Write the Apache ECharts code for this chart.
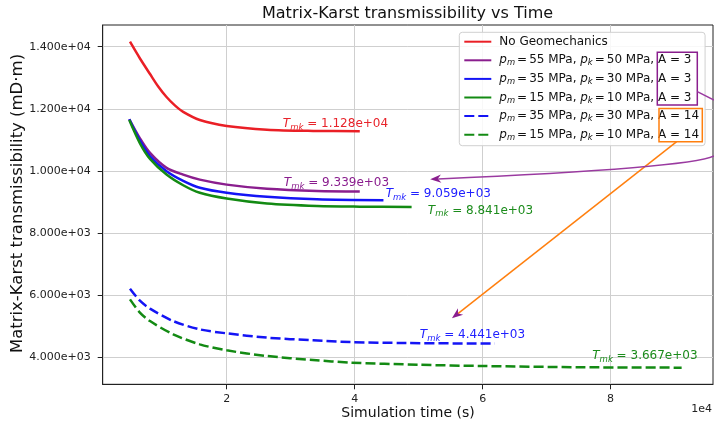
<!DOCTYPE html>
<html><head><meta charset="utf-8">
<script src="https://cdn.jsdelivr.net/npm/echarts@6/dist/echarts.min.js"></script>
<style>html,body{margin:0;padding:0;background:#fff}#c{width:714px;height:421px}</style>
</head><body><div id="c"></div>
<script>
const FONT = 'DejaVu Sans';

// ---- data (time in s, transmissibility in mD·m) ----
const seriesNames = [
  'No Geomechanics',
  'p_m = 55 MPa, p_k = 50 MPa, A = 3',
  'p_m = 35 MPa, p_k = 30 MPa, A = 3',
  'p_m = 15 MPa, p_k = 10 MPa, A = 3',
  'p_m = 35 MPa, p_k = 30 MPa, A = 14',
  'p_m = 15 MPa, p_k = 10 MPa, A = 14'
];
const redT = [4890, 6450, 8020, 9300, 10600, 11900, 13200, 15800, 20000, 26300, 33500, 40800];
const redV = [14160, 13620, 13120, 12720, 12380, 12110, 11900, 11640, 11450, 11330, 11290, 11280];
const purpleT = [4780, 6450, 8020, 10600, 13200, 15800, 20000, 26300, 34100, 40800];
const purpleV = [11665, 11050, 10580, 10100, 9880, 9720, 9560, 9425, 9354, 9339];
const blueT = [4780, 6450, 8020, 10600, 13200, 15800, 20000, 26300, 34100, 44500];
const blueV = [11665, 10974, 10473, 9990, 9680, 9457, 9296, 9167, 9090, 9059];
const greenT = [4780, 6450, 8020, 10600, 13200, 15800, 20000, 26300, 34100, 40800, 48900];
const greenV = [11640, 10890, 10389, 9884, 9540, 9296, 9110, 8950, 8871, 8850, 8841];
const blueDashT = [4890, 6400, 8020, 11640, 15800, 20000, 26300, 33500, 39300, 48000, 61900];
const blueDashV = [6209, 5830, 5566, 5167, 4900, 4772, 4633, 4547, 4492, 4460, 4441];
const greenDashT = [4890, 6400, 8020, 11640, 15800, 20000, 26300, 33500, 39300, 50000, 60000, 75700, 91100];
const greenDashV = [5865, 5449, 5167, 4740, 4418, 4225, 4042, 3913, 3830, 3760, 3720, 3680, 3667];

const yTicks = [4000, 6000, 8000, 10000, 12000, 14000];
const xTicks = [20000, 40000, 60000, 80000];

// final-value annotations: [text value, x, y (data coords), colour index]
const tmkLabels = [
  ['1.128e+04', 37000, 11510, 0],
  ['9.339e+03', 37160, 9602, 1],
  ['9.059e+03', 53070, 9248, 2],
  ['8.841e+03', 59660, 8720, 3],
  ['4.441e+03', 58410, 4718, 4],
  ['3.667e+03', 85360, 4042, 5]
];
const purpleArrowTip = [51800, 9730];
const orangeArrowTip = [55200, 5256];

const colors = ['#ea1f26', '#8a1e8e', '#1414f5', '#138a13', '#1414f5', '#138a13'];
const textColors = ['#e8232a', '#8a1e8e', '#2020ff', '#1c8c1c', '#2020ff', '#1c8c1c'];

function zip(a, b) { return a.map((v, i) => [v, b[i]]); }
function sci(v) {
  const e = Math.floor(Math.log10(v));
  const m = v / Math.pow(10, e);
  return m.toFixed(3) + 'e+' + String(e).padStart(2, '0');
}

const datasets = [
  zip(redT, redV), zip(purpleT, purpleV), zip(blueT, blueV),
  zip(greenT, greenV), zip(blueDashT, blueDashV), zip(greenDashT, greenDashV)
];

const series = datasets.map((d, i) => ({
  name: seriesNames[i],
  type: 'line',
  data: d,
  symbol: 'none',
  showSymbol: false,
  smooth: 0.3,
  lineStyle: { color: colors[i], width: 2.5, type: i >= 4 ? [10, 4] : 'solid' },
  itemStyle: { color: colors[i] },
  z: 3
}));

const SP = '\u2006';
const option = {
  animation: false,
  backgroundColor: '#fff',
  title: {
    text: 'Matrix-Karst transmissibility vs Time',
    left: 257, top: 1,
    textStyle: { fontFamily: FONT, fontSize: 16, fontWeight: 'normal', color: '#111' }
  },
  grid: { left: 102.7, right: 1, top: 25, bottom: 36.7, show: true, borderColor: '#222', borderWidth: 1, containLabel: false },
  xAxis: {
    type: 'value', min: 625, max: 96000,
    axisLine: { show: true, onZero: false, lineStyle: { color: '#222', width: 1 } },
    axisTick: { show: true, customValues: xTicks, length: 5, lineStyle: { color: '#222' } },
    axisLabel: { customValues: xTicks, formatter: v => String(v / 1e4), fontFamily: FONT, fontSize: 11, color: '#222', margin: 9 },
    splitLine: { show: true, lineStyle: { color: '#cfcfcf', width: 1 } }
  },
  yAxis: {
    type: 'value', min: 3131, max: 14699,
    axisLine: { show: true, onZero: false, lineStyle: { color: '#222', width: 1 } },
    axisTick: { show: true, customValues: yTicks, length: 5, lineStyle: { color: '#222' } },
    axisLabel: { customValues: yTicks, formatter: v => sci(v), fontFamily: FONT, fontSize: 11, color: '#222', margin: 12 },
    splitLine: { show: true, lineStyle: { color: '#cfcfcf', width: 1 } }
  },
  legend: {
    orient: 'vertical', left: 459.3, top: 32.3,
    itemWidth: 27, itemHeight: 14, itemGap: 4.6,
    padding: [2.4, 6, 4, 4],
    backgroundColor: 'rgba(255,255,255,0.85)', borderColor: '#d0d0d0', borderWidth: 1, borderRadius: 3,
    itemStyle: { opacity: 0 },
    data: seriesNames,
    formatter: n => n.replace(/p_(\w) = /g, '{i|p}{s|$1}' + SP + '=' + SP),
    textStyle: {
      fontFamily: FONT, fontSize: 12, color: '#111', padding: [0, 0, 0, 3], lineHeight: 14,
      rich: {
        i: { fontFamily: FONT, fontSize: 12, fontStyle: 'italic', color: '#111', lineHeight: 14 },
        s: { fontFamily: FONT, fontSize: 8.4, fontStyle: 'italic', color: '#111', verticalAlign: 'bottom', lineHeight: 14 }
      }
    },
    z: 10
  },
  series: series
};

const chart = echarts.init(document.getElementById('c'), null, { renderer: 'canvas' });
chart.setOption(option);

function px(p) { return chart.convertToPixel({ gridIndex: 0 }, p); }
function arrowHead(tip, from, color) {
  const dx = tip[0] - from[0], dy = tip[1] - from[1];
  const L = Math.hypot(dx, dy), ux = dx / L, uy = dy / L;
  const nx = -uy, ny = ux, len = 11, hw = 4.2;
  const bx = tip[0] - ux * len, by = tip[1] - uy * len;
  const mx = tip[0] - ux * len * 0.7, my = tip[1] - uy * len * 0.7;
  return {
    type: 'polygon', z: 20, silent: true,
    shape: { points: [tip, [bx + nx * hw, by + ny * hw], [mx, my], [bx - nx * hw, by - ny * hw]] },
    style: { fill: color }
  };
}

const graphics = [];
tmkLabels.forEach(l => {
  const p = px([l[1], l[2]]);
  graphics.push({
    type: 'text', x: p[0], y: p[1], z: 15, silent: true,
    style: {
      text: '{i|T}{s|mk} = ' + l[0],
      align: 'center', verticalAlign: 'middle',
      fontFamily: FONT, fontSize: 12, fill: textColors[l[3]],
      rich: {
        i: { fontFamily: FONT, fontSize: 12, fontStyle: 'italic', fill: textColors[l[3]] },
        s: { fontFamily: FONT, fontSize: 8.5, fontStyle: 'italic', fill: textColors[l[3]], verticalAlign: 'bottom', lineHeight: 16 }
      }
    }
  });
});

// axis names
graphics.push({ type: 'text', z: 15, silent: true, x: 17.5, y: 203.5, rotation: Math.PI / 2,
  style: { text: 'Matrix-Karst transmissibility (mD·m)', align: 'center', verticalAlign: 'middle', fontFamily: FONT, fontSize: 16.5, fill: '#111' } });
graphics.push({ type: 'text', z: 15, silent: true, x: 408, y: 413,
  style: { text: 'Simulation time (s)', align: 'center', verticalAlign: 'middle', fontFamily: FONT, fontSize: 14, fill: '#111' } });

// boxes around legend entries
graphics.push({ type: 'rect', z: 20, silent: true, shape: { x: 657.3, y: 52.3, width: 40, height: 52.7 }, style: { fill: 'none', stroke: '#8a1e8e', lineWidth: 1.5 } });
graphics.push({ type: 'rect', z: 20, silent: true, shape: { x: 659, y: 108.6, width: 43.3, height: 33.1 }, style: { fill: 'none', stroke: '#ff7f0e', lineWidth: 1.5 } });
// purple connector leaving the box
graphics.push({ type: 'line', z: 20, silent: true, shape: { x1: 697.3, y1: 91.7, x2: 714, y2: 100 }, style: { stroke: '#9a3aa0', lineWidth: 1.5 } });
// purple curved arrow
const pt = px(purpleArrowTip);
const pStart = [714, 156], pCtrl = [690, 168];
graphics.push({ type: 'bezierCurve', z: 20, silent: true, shape: { x1: pStart[0], y1: pStart[1], x2: pt[0] + 8, y2: pt[1] - 0.3, cpx1: pCtrl[0], cpy1: pCtrl[1] }, style: { stroke: '#9a3aa0', lineWidth: 1.5, fill: 'none' } });
graphics.push(arrowHead(pt, [pt[0] + 40, pt[1] - 2.5], '#8a1e8e'));
// orange arrow
const ot = px(orangeArrowTip);
const oStart = [676.7, 141.7];
graphics.push({ type: 'line', z: 19, silent: true, shape: { x1: oStart[0], y1: oStart[1], x2: ot[0] + 6, y2: ot[1] - 4.6 }, style: { stroke: '#ff7f0e', lineWidth: 1.5 } });
graphics.push(arrowHead(ot, oStart, '#8a1e8e'));
// axis offset text
graphics.push({ type: 'text', z: 15, silent: true, x: 712, y: 409, style: { text: '1e4', align: 'right', verticalAlign: 'middle', fontFamily: FONT, fontSize: 11, fill: '#222' } });

chart.setOption({ graphic: graphics });
</script>
</body></html>
